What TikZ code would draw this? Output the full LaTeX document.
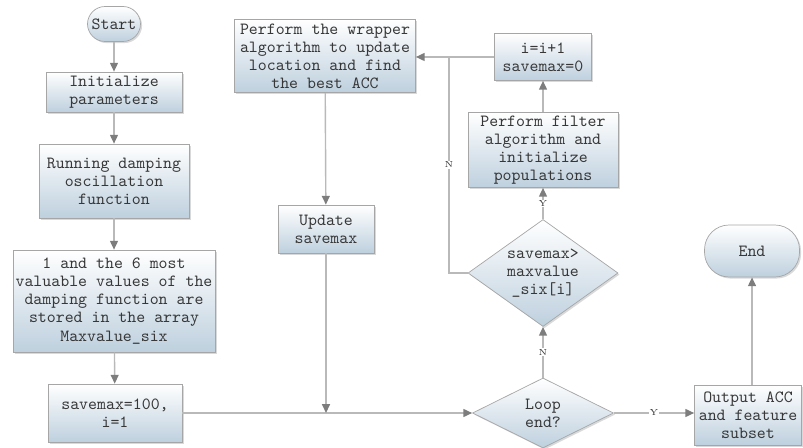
\documentclass[tikz,border=0pt]{standalone}
\usepackage{tikz}
\usetikzlibrary{arrows.meta,shapes.geometric,shadows}

\definecolor{boxbot}{RGB}{190,208,222}
\definecolor{linegray}{RGB}{185,185,185}
\definecolor{tipgray}{RGB}{125,125,125}
\definecolor{textgray}{RGB}{55,55,55}

\begin{document}
\begin{tikzpicture}[x=0.02cm, y=-0.02cm,
  base/.style={draw=gray!70, top color=white, bottom color=boxbot, text=textgray,
    font=\ttfamily\fontsize{9.7}{10.3}\selectfont, align=center, inner sep=1pt,
    drop shadow={opacity=0.3, shadow xshift=0.9pt, shadow yshift=-0.9pt}},
  box/.style={base, rectangle},
  terminal/.style={base, rectangle, rounded corners=10pt},
  decision/.style={base, diamond, aspect=1.4},
  arrow/.style={draw=linegray, thick, -{Triangle[length=5pt, width=4.5pt, color=tipgray]}},
  lab/.style={fill=white, inner sep=0.5pt, text=textgray, font=\fontsize{5}{5}\selectfont}
]
\useasboundingbox (0,0) rectangle (803,448);

% left column
\node[terminal, minimum width=1.06cm, minimum height=0.70cm] (start) at (114,24) {Start};
\node[box, minimum width=2.72cm, minimum height=0.80cm] (init) at (114,92) {Initialize\\parameters};
\node[box, minimum width=3.00cm, minimum height=1.48cm] (run) at (114,181) {Running damping\\oscillation\\function};
\node[box, minimum width=4.04cm, minimum height=2.04cm] (store) at (114,301) {1 and the 6 most\\valuable values of the\\damping function are\\stored in the array\\Maxvalue\_six};
\node[box, minimum width=2.68cm, minimum height=1.16cm] (initmax) at (115,413) {savemax=100,\\i=1};

% middle column
\node[box, minimum width=3.62cm, minimum height=1.46cm] (wrap) at (325,56) {Perform the wrapper\\algorithm to update\\location and find\\the best ACC};
\node[box, minimum width=1.92cm, minimum height=0.96cm] (upd) at (326,229) {Update\\savemax};

% loop column
\node[box, minimum width=1.94cm, minimum height=0.94cm] (inc) at (543,57) {i=i+1\\savemax=0};
\node[box, minimum width=3.00cm, minimum height=1.50cm] (filt) at (543,150) {Perform filter\\algorithm and\\initialize\\populations};
\node[decision, minimum width=3.00cm, minimum height=2.14cm, inner sep=0pt] (cmp) at (543,273) {savemax>\\maxvalue\\\_six[i]};
\node[decision, minimum width=2.82cm, minimum height=1.40cm, inner sep=0pt] (loop) at (543,413) {Loop\\end?};

% right column
\node[box, minimum width=2.14cm, minimum height=1.20cm] (out) at (748,415) {Output ACC\\and feature\\subset};
\node[terminal, minimum width=1.90cm, minimum height=1.04cm, rounded corners=14pt] (end) at (752,251) {End};

\coordinate (join) at (449,57);
\coordinate (merge) at (326,413);

\draw[arrow] (start) -- (init);
\draw[arrow] (init) -- (run);
\draw[arrow] (run) -- (store);
\draw[arrow] (store) -- (initmax);
\draw[arrow] (initmax.east |- loop) -- (loop.west);
\draw[arrow] (upd) -- (merge);
\draw[arrow] (wrap) -- (upd);
\draw[arrow] (loop) -- node[lab] {N} (cmp);
\draw[arrow] (cmp) -- node[lab] {Y} (filt);
\draw[arrow] (filt) -- (inc);
\draw[arrow] (inc.west) -- (wrap.east |- inc);
\draw[draw=linegray, thick] (cmp.west) -| node[lab, pos=0.75] {N} (join);
\draw[arrow] (loop.east) -- node[lab] {Y} (out.west |- loop);
\draw[arrow] (out.north -| end) -- (end);
\end{tikzpicture}
\end{document}
